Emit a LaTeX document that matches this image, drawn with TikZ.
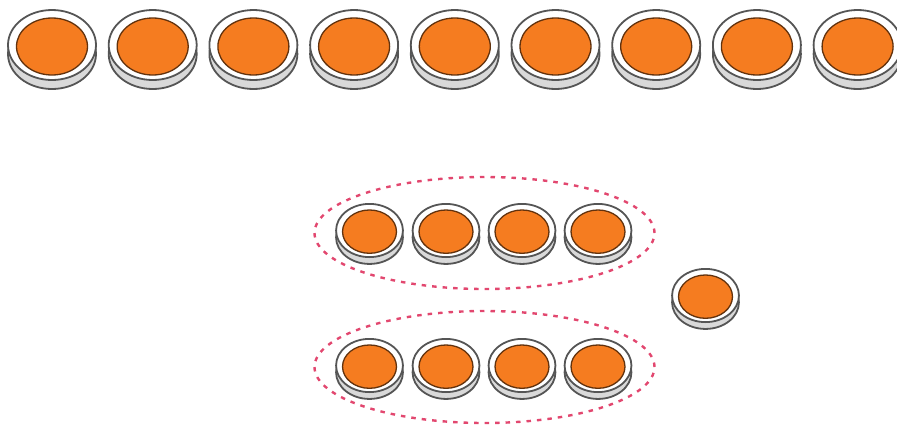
\documentclass[tikz,border=0pt]{standalone}
\usetikzlibrary{shapes.geometric}
\definecolor{coinorange}{HTML}{F57C20}
\definecolor{coinedge}{HTML}{555555}
\definecolor{coinside}{HTML}{D9D9D9}
\definecolor{grouppink}{HTML}{E2476F}
\tikzset{
  coinbase/.style={draw=coinedge, ellipse, line width=1.8pt, fill=coinside, inner sep=0pt, minimum width=88pt, minimum height=70pt},
  coinrim/.style={draw=coinedge, ellipse, line width=1.8pt, fill=white, inner sep=0pt, minimum width=88pt, minimum height=70pt},
  coinface/.style={draw=black!60!coinorange, ellipse, line width=1.3pt, fill=coinorange, inner sep=0pt, minimum width=71pt, minimum height=57pt},
  coin/.pic={
    \node[coinbase] (-base) at (0,-9) {};
    \node[coinrim] (-rim) at (0,0) {};
    \node[coinface] (-face) at (0,-1.5) {};
  },
  smallcoin/.style={scale=0.76, transform shape},
  group/.style={draw=grouppink, ellipse, line width=2.4pt, dash pattern=on 4.5pt off 6pt, inner sep=0pt, minimum width=340pt, minimum height=112pt}
}
\begin{document}
\begin{tikzpicture}[x=1pt, y=1pt]
  \useasboundingbox (0,0) rectangle (897,-424);
  % top row
  \pic (a1) at (52,-45) {coin};
  \pic (a2) at (152.7,-45) {coin};
  \pic (a3) at (253.4,-45) {coin};
  \pic (a4) at (354.1,-45) {coin};
  \pic (a5) at (454.8,-45) {coin};
  \pic (a6) at (555.5,-45) {coin};
  \pic (a7) at (656.2,-45) {coin};
  \pic (a8) at (756.9,-45) {coin};
  \pic (a9) at (857.6,-45) {coin};
  % groups
  \node[group] (g1) at (484.5,-233) {};
  \node[group] (g2) at (484.5,-367) {};
  \pic[smallcoin] (b1) at (369.5,-230.5) {coin};
  \pic[smallcoin] (b2) at (446,-230.5) {coin};
  \pic[smallcoin] (b3) at (522,-230.5) {coin};
  \pic[smallcoin] (b4) at (598,-230.5) {coin};
  \pic[smallcoin] (c1) at (369.5,-365.5) {coin};
  \pic[smallcoin] (c2) at (446,-365.5) {coin};
  \pic[smallcoin] (c3) at (522,-365.5) {coin};
  \pic[smallcoin] (c4) at (598,-365.5) {coin};
  % the one left over
  \pic[smallcoin] (d1) at (705.5,-295.5) {coin};
\end{tikzpicture}
\end{document}
